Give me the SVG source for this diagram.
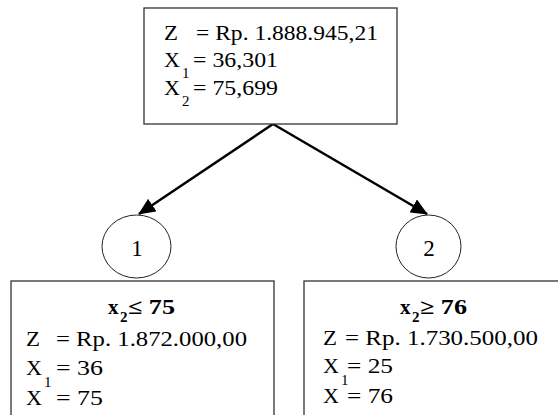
<svg xmlns="http://www.w3.org/2000/svg" width="558" height="415" viewBox="0 0 558 415">
<style>
.box{fill:#fff;stroke:#333;stroke-width:1.3}
.circ{fill:#fff;stroke:#222;stroke-width:1}
.t{font-family:"Liberation Serif","Times New Roman",serif;font-size:20.5px;fill:#000}
.b{font-weight:bold;font-size:21px}
.sub{font-size:15px}
.lbl{font-size:23px}
.conn{stroke:#000;stroke-width:2.5;fill:none}
</style>
<defs>
<marker id="arr" markerWidth="17" markerHeight="15" refX="16" refY="7.5" orient="auto" markerUnits="userSpaceOnUse">
<path d="M0,0 L17,7.5 L0,15 z" fill="#000"/>
</marker>
</defs>

<g id="connectors">
<line class="conn" x1="273" y1="124" x2="139" y2="214" marker-end="url(#arr)"/>
<line class="conn" x1="273" y1="124" x2="427" y2="214" marker-end="url(#arr)"/>
</g>

<g id="root">
<rect class="box" x="144" y="8" width="253" height="116"/>
<text class="t" x="164" y="40" textLength="14" lengthAdjust="spacingAndGlyphs">Z</text>
<text class="t" x="196" y="40" textLength="182" lengthAdjust="spacingAndGlyphs">= Rp. 1.888.945,21</text>
<text class="t" x="164" y="67" textLength="16" lengthAdjust="spacingAndGlyphs">X</text>
<text class="t sub" x="182" y="78">1</text>
<text class="t" x="193" y="67" textLength="85" lengthAdjust="spacingAndGlyphs">= 36,301</text>
<text class="t" x="164" y="95" textLength="16" lengthAdjust="spacingAndGlyphs">X</text>
<text class="t sub" x="182" y="106">2</text>
<text class="t" x="193" y="95" textLength="85" lengthAdjust="spacingAndGlyphs">= 75,699</text>
</g>

<g id="node1">
<ellipse class="circ" cx="136.5" cy="246.5" rx="34.5" ry="31.5"/>
<text class="t lbl" x="137" y="256" text-anchor="middle">1</text>
</g>

<g id="node2">
<ellipse class="circ" cx="428.5" cy="246.5" rx="32.5" ry="31.5"/>
<text class="t lbl" x="429" y="256" text-anchor="middle">2</text>
</g>

<g id="leftbox">
<rect class="box" x="11" y="281" width="263" height="200"/>
<text class="t b" x="108" y="314">x</text>
<text class="t b sub" x="120" y="322">2</text>
<text class="t b" x="128" y="314" textLength="47" lengthAdjust="spacingAndGlyphs">≤ 75</text>
<text class="t" x="26" y="346" textLength="14" lengthAdjust="spacingAndGlyphs">Z</text>
<text class="t" x="56" y="346" textLength="191" lengthAdjust="spacingAndGlyphs">= Rp. 1.872.000,00</text>
<text class="t" x="26" y="375" textLength="16" lengthAdjust="spacingAndGlyphs">X</text>
<text class="t sub" x="44" y="387">1</text>
<text class="t" x="56" y="375" textLength="47" lengthAdjust="spacingAndGlyphs">= 36</text>
<text class="t" x="26" y="405" textLength="16" lengthAdjust="spacingAndGlyphs">X</text>
<text class="t" x="56" y="405" textLength="47" lengthAdjust="spacingAndGlyphs">= 75</text>
</g>

<g id="rightbox">
<rect class="box" x="304" y="281" width="300" height="200"/>
<text class="t b" x="400" y="314">x</text>
<text class="t b sub" x="412" y="322">2</text>
<text class="t b" x="420" y="314" textLength="47" lengthAdjust="spacingAndGlyphs">≥ 76</text>
<text class="t" x="323" y="345" textLength="14" lengthAdjust="spacingAndGlyphs">Z</text>
<text class="t" x="345" y="345" textLength="193" lengthAdjust="spacingAndGlyphs">= Rp. 1.730.500,00</text>
<text class="t" x="323" y="373" textLength="16" lengthAdjust="spacingAndGlyphs">X</text>
<text class="t sub" x="341" y="385">1</text>
<text class="t" x="347" y="373" textLength="46" lengthAdjust="spacingAndGlyphs">= 25</text>
<text class="t" x="323" y="403" textLength="16" lengthAdjust="spacingAndGlyphs">X</text>
<text class="t" x="347" y="403" textLength="46" lengthAdjust="spacingAndGlyphs">= 76</text>
</g>
</svg>
